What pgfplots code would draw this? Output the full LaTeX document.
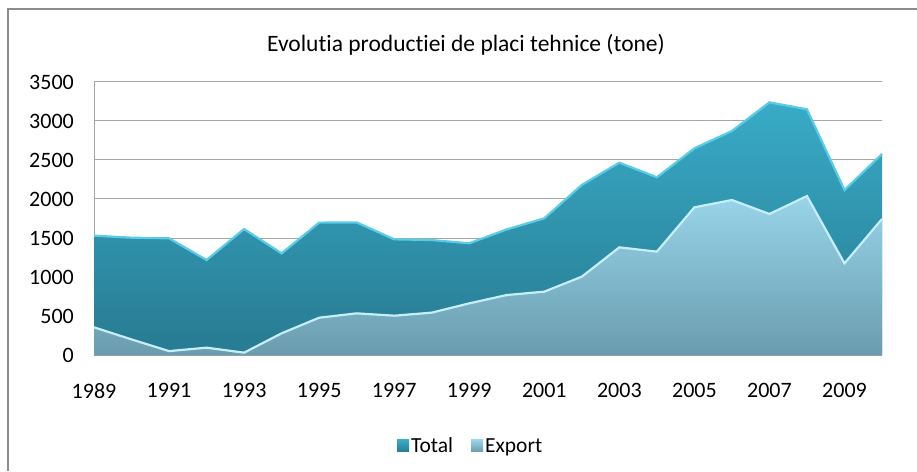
\documentclass[border=0pt]{standalone}
\usepackage{pgfplots}
\pgfplotsset{compat=1.18}
\usepackage{fontspec}
\setmainfont{Carlito}[Ligatures=NoCommon]
\definecolor{totTop}{HTML}{39ABC7}
\definecolor{totBot}{HTML}{277A91}
\definecolor{totEdge}{HTML}{5ACCE8}
\definecolor{expTop}{HTML}{98D4EA}
\definecolor{expBot}{HTML}{6A9CAE}
\definecolor{expEdge}{HTML}{C6EEF9}
\definecolor{gridc}{HTML}{A6A6A6}
\definecolor{framec}{HTML}{8C8C8C}
\begin{document}
\begin{tikzpicture}[x=1pt,y=1pt]
\useasboundingbox (0,0) rectangle (917,471);
\draw[framec, line width=2pt] (8,0) -- (8,462) -- (917,462);
\node[font=\fontsize{23.5}{28}\selectfont] at (466,426) {Evolutia productiei de placi tehnice (tone)};
\begin{axis}[
  at={(94pt,116pt)}, anchor=south west,
  scale only axis, width=788pt, height=273pt,
  xmin=1989, xmax=2010, ymin=0, ymax=3500,
  xtick={1989,1991,...,2009}, ytick={0,500,...,3500},
  axis lines=left, axis line style={gridc, line width=1pt, -},
  ymajorgrids, grid style={gridc, line width=1pt},
  major tick length=0pt,
  /pgf/number format/assume math mode=true,
  /pgf/number format/1000 sep={},
  tick label style={font=\fontsize{22}{26}\selectfont, inner sep=0pt},
  yticklabel style={anchor=east, xshift=-20pt},
  xticklabel style={anchor=north, yshift=-28pt},
  legend style={at={(0.478,-0.333)}, anchor=center, draw=none, fill=none,
    legend columns=2, font=\fontsize{21.5}{26}\selectfont,
    /tikz/every even column/.append style={column sep=16pt}},
  legend image code/.code={\fill[#1] (0pt,-6pt) rectangle (12pt,6pt);},
  clip=false,
]
\addplot[draw=none, top color=totTop, bottom color=totBot] coordinates {
(1989,1530)(1990,1504)(1991,1496)(1992,1218)(1993,1615)(1994,1303)(1995,1697)(1996,1700)(1997,1483)(1998,1474)(1999,1432)(2000,1610)(2001,1752)(2002,2180)(2003,2466)(2004,2278)(2005,2650)(2006,2872)(2007,3239)(2008,3150)(2009,2115)(2010,2577)
} \closedcycle;
\addlegendentry{Total}
\addplot[draw=none, top color=expTop, bottom color=expBot] coordinates {
(1989,355)(1990,200)(1991,50)(1992,94)(1993,30)(1994,278)(1995,478)(1996,534)(1997,504)(1998,543)(1999,662)(2000,769)(2001,812)(2002,1004)(2003,1380)(2004,1325)(2005,1893)(2006,1987)(2007,1808)(2008,2038)(2009,1175)(2010,1744)
} \closedcycle;
\addlegendentry{Export}
\addplot[totEdge, line width=2.2pt, forget plot] coordinates {
(1989,1530)(1990,1504)(1991,1496)(1992,1218)(1993,1615)(1994,1303)(1995,1697)(1996,1700)(1997,1483)(1998,1474)(1999,1432)(2000,1610)(2001,1752)(2002,2180)(2003,2466)(2004,2278)(2005,2650)(2006,2872)(2007,3239)(2008,3150)(2009,2115)(2010,2577)
};
\addplot[expEdge, line width=2.2pt, forget plot] coordinates {
(1989,355)(1990,200)(1991,50)(1992,94)(1993,30)(1994,278)(1995,478)(1996,534)(1997,504)(1998,543)(1999,662)(2000,769)(2001,812)(2002,1004)(2003,1380)(2004,1325)(2005,1893)(2006,1987)(2007,1808)(2008,2038)(2009,1175)(2010,1744)
};
\end{axis}
\end{tikzpicture}
\end{document}
